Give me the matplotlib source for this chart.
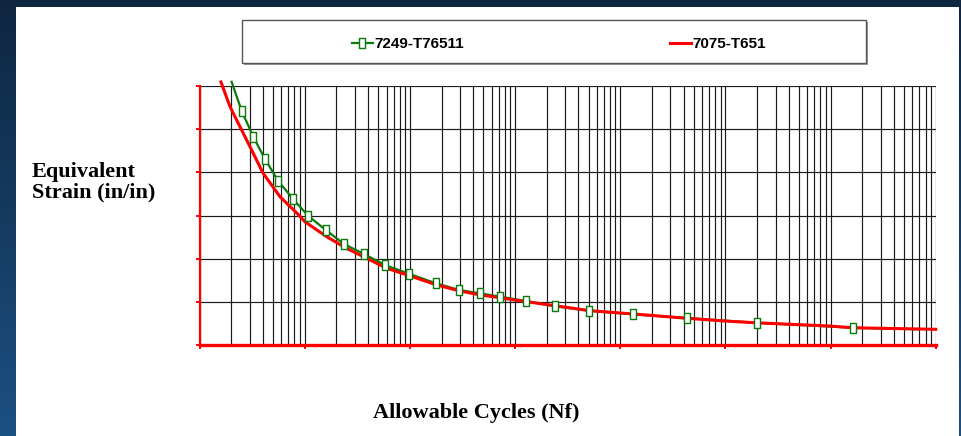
import matplotlib.pyplot as plt
import numpy as np
from matplotlib.colors import LinearSegmentedColormap
from matplotlib.lines import Line2D
from matplotlib.patches import Rectangle
from matplotlib.path import Path
from matplotlib.ticker import LogLocator, MultipleLocator, NullFormatter

# 7249-T76511 (green, square markers)
green_cycles = [20.2, 25.2, 32.5, 42.0, 56.2, 77.9, 108.3, 158.5, 236.8, 366.6,
                580.7, 988, 1762, 2931, 4645, 7194, 1.264e4, 2.42e4, 5.08e4,
                1.33e5, 4.29e5, 1.99e6, 1.65e7, 6.79e7]
green_strain = [0.01218, 0.01083, 0.00964, 0.00860, 0.00759, 0.00675, 0.00598,
                0.00533, 0.00468, 0.00422, 0.00371, 0.00330, 0.00287, 0.00256,
                0.00240, 0.00225, 0.00205, 0.00180, 0.00160, 0.00143, 0.00126,
                0.00104, 0.00081, 0.00074]
# points that carry a marker (first and last are line-only)
green_marked = list(range(1, len(green_cycles) - 1))

# 7075-T651 (red, plain line)
red_cycles = [16.0, 19.5, 30.2, 40.2, 58.2, 83.9, 100.7, 161.9, 251, 389, 603,
              988, 1800, 2999, 4645, 7194, 1.0e4, 2.49e4, 5.16e4, 1.32e5,
              4.29e5, 1.0e6, 1.99e6, 9.9e6, 1.64e7, 1.0e8]
red_strain = [0.01217, 0.01103, 0.00918, 0.00796, 0.00687, 0.00612, 0.00571,
              0.00502, 0.00448, 0.00402, 0.00356, 0.00322, 0.00279, 0.00251,
              0.00233, 0.00220, 0.00209, 0.00182, 0.00160, 0.00145, 0.00125,
              0.00112, 0.00104, 0.00089, 0.00081, 0.00074]

labels = ["7249-T76511", "7075-T651"]
x_limits = (1e1, 1e8)
y_limits = (0.0, 0.012)
y_step = 0.002

GREEN = "#0a7a0a"
RED = "#ff0000"

W, H = 961, 436
fig = plt.figure(figsize=(W / 100, H / 100), dpi=100)

# slide background: dark-to-blue gradient with a white panel
bg = fig.add_axes([0, 0, 1, 1], zorder=-10)
grad = np.linspace(0, 1, 256)[:, None]
cmap = LinearSegmentedColormap.from_list("slide", ["#0f2640", "#1b5082"])
bg.imshow(grad, aspect="auto", cmap=cmap, extent=[0, 1, 0, 1], origin="upper")
bg.set_axis_off()
fig.add_artist(Rectangle((16 / W, 0), (959 - 16) / W, (H - 7) / H,
                         transform=fig.transFigure, facecolor="white",
                         edgecolor="none", zorder=-5))

ax = fig.add_axes([199.5 / W, (H - 345.3) / H, (935.7 - 199.5) / W,
                   (345.3 - 85.7) / H])
ax.set_facecolor("none")
ax.set_xscale("log")
ax.set_xlim(*x_limits)
ax.set_ylim(*y_limits)

ax.xaxis.set_major_locator(LogLocator(base=10, numticks=20))
ax.xaxis.set_minor_locator(LogLocator(base=10, subs=np.arange(2, 10), numticks=50))
ax.xaxis.set_major_formatter(NullFormatter())
ax.xaxis.set_minor_formatter(NullFormatter())
ax.yaxis.set_major_locator(MultipleLocator(y_step))
ax.yaxis.set_major_formatter(NullFormatter())

ax.grid(True, which="both", axis="x", color="#1a1a1a", linewidth=0.85)
ax.grid(True, which="major", axis="y", color="#1a1a1a", linewidth=0.85)
ax.set_axisbelow(True)

for side in ("top", "right"):
    ax.spines[side].set_visible(False)
ax.spines["left"].set_color(RED)
ax.spines["left"].set_linewidth(1.6)
ax.spines["bottom"].set_color(RED)
ax.spines["bottom"].set_linewidth(2.4)
ax.tick_params(which="major", direction="out", color=RED, length=3, width=1.4)
ax.tick_params(which="minor", length=0)

rect_marker = Path([(-0.6, -1), (0.6, -1), (0.6, 1), (-0.6, 1), (-0.6, -1)],
                   [Path.MOVETO, Path.LINETO, Path.LINETO, Path.LINETO, Path.CLOSEPOLY])

ax.plot(green_cycles, green_strain, color=GREEN, linewidth=1.6, zorder=2,
        clip_on=False)
ax.plot(red_cycles, red_strain, color=RED, linewidth=2.2, zorder=3, clip_on=False)
ax.plot(np.array(green_cycles)[green_marked], np.array(green_strain)[green_marked],
        linestyle="none", marker=rect_marker, markersize=6.8,
        markerfacecolor="white", markeredgecolor=GREEN, markeredgewidth=1.0,
        zorder=4)

# legend box
fig.add_artist(Rectangle((244 / W, 1 - 65 / H), 624 / W, 43 / H,
                         transform=fig.transFigure, facecolor="#9a9a9a",
                         edgecolor="none", zorder=1))
fig.add_artist(Rectangle((242 / W, 1 - 63 / H), 624 / W, 43 / H,
                         transform=fig.transFigure, facecolor="white",
                         edgecolor="#555555", linewidth=1.0, zorder=2))
legend_font = dict(family=["Liberation Sans Narrow", "Liberation Sans", "DejaVu Sans"],
                   weight="bold", size=11, va="center", ha="left", zorder=3)
y_leg = 1 - 43 / H
fig.add_artist(Line2D([352 / W, 362 / W, 373 / W], [y_leg, y_leg, y_leg],
                      transform=fig.transFigure, color=GREEN, linewidth=1.6,
                      marker=rect_marker, markevery=[1], markersize=6.5,
                      markerfacecolor="white", markeredgecolor=GREEN,
                      markeredgewidth=1.0, zorder=3))
fig.text(374 / W, 1 - 44 / H, labels[0], **legend_font)
fig.add_artist(Line2D([670 / W, 691 / W], [y_leg, y_leg],
                      transform=fig.transFigure, color=RED, linewidth=2.2,
                      zorder=3))
fig.text(692 / W, 1 - 44 / H, labels[1], **legend_font)

serif_bold = dict(family=["Liberation Serif", "DejaVu Serif"], weight="bold",
                  size=16)
fig.text(32 / W, 1 - 182 / H, "Equivalent\nStrain (in/in)", ha="left",
         va="center", linespacing=1.05, **serif_bold)
fig.text(476 / W, 1 - 413 / H, "Allowable Cycles (Nf)", ha="center",
         va="center", **serif_bold)

fig.savefig("out.png", dpi=100)
